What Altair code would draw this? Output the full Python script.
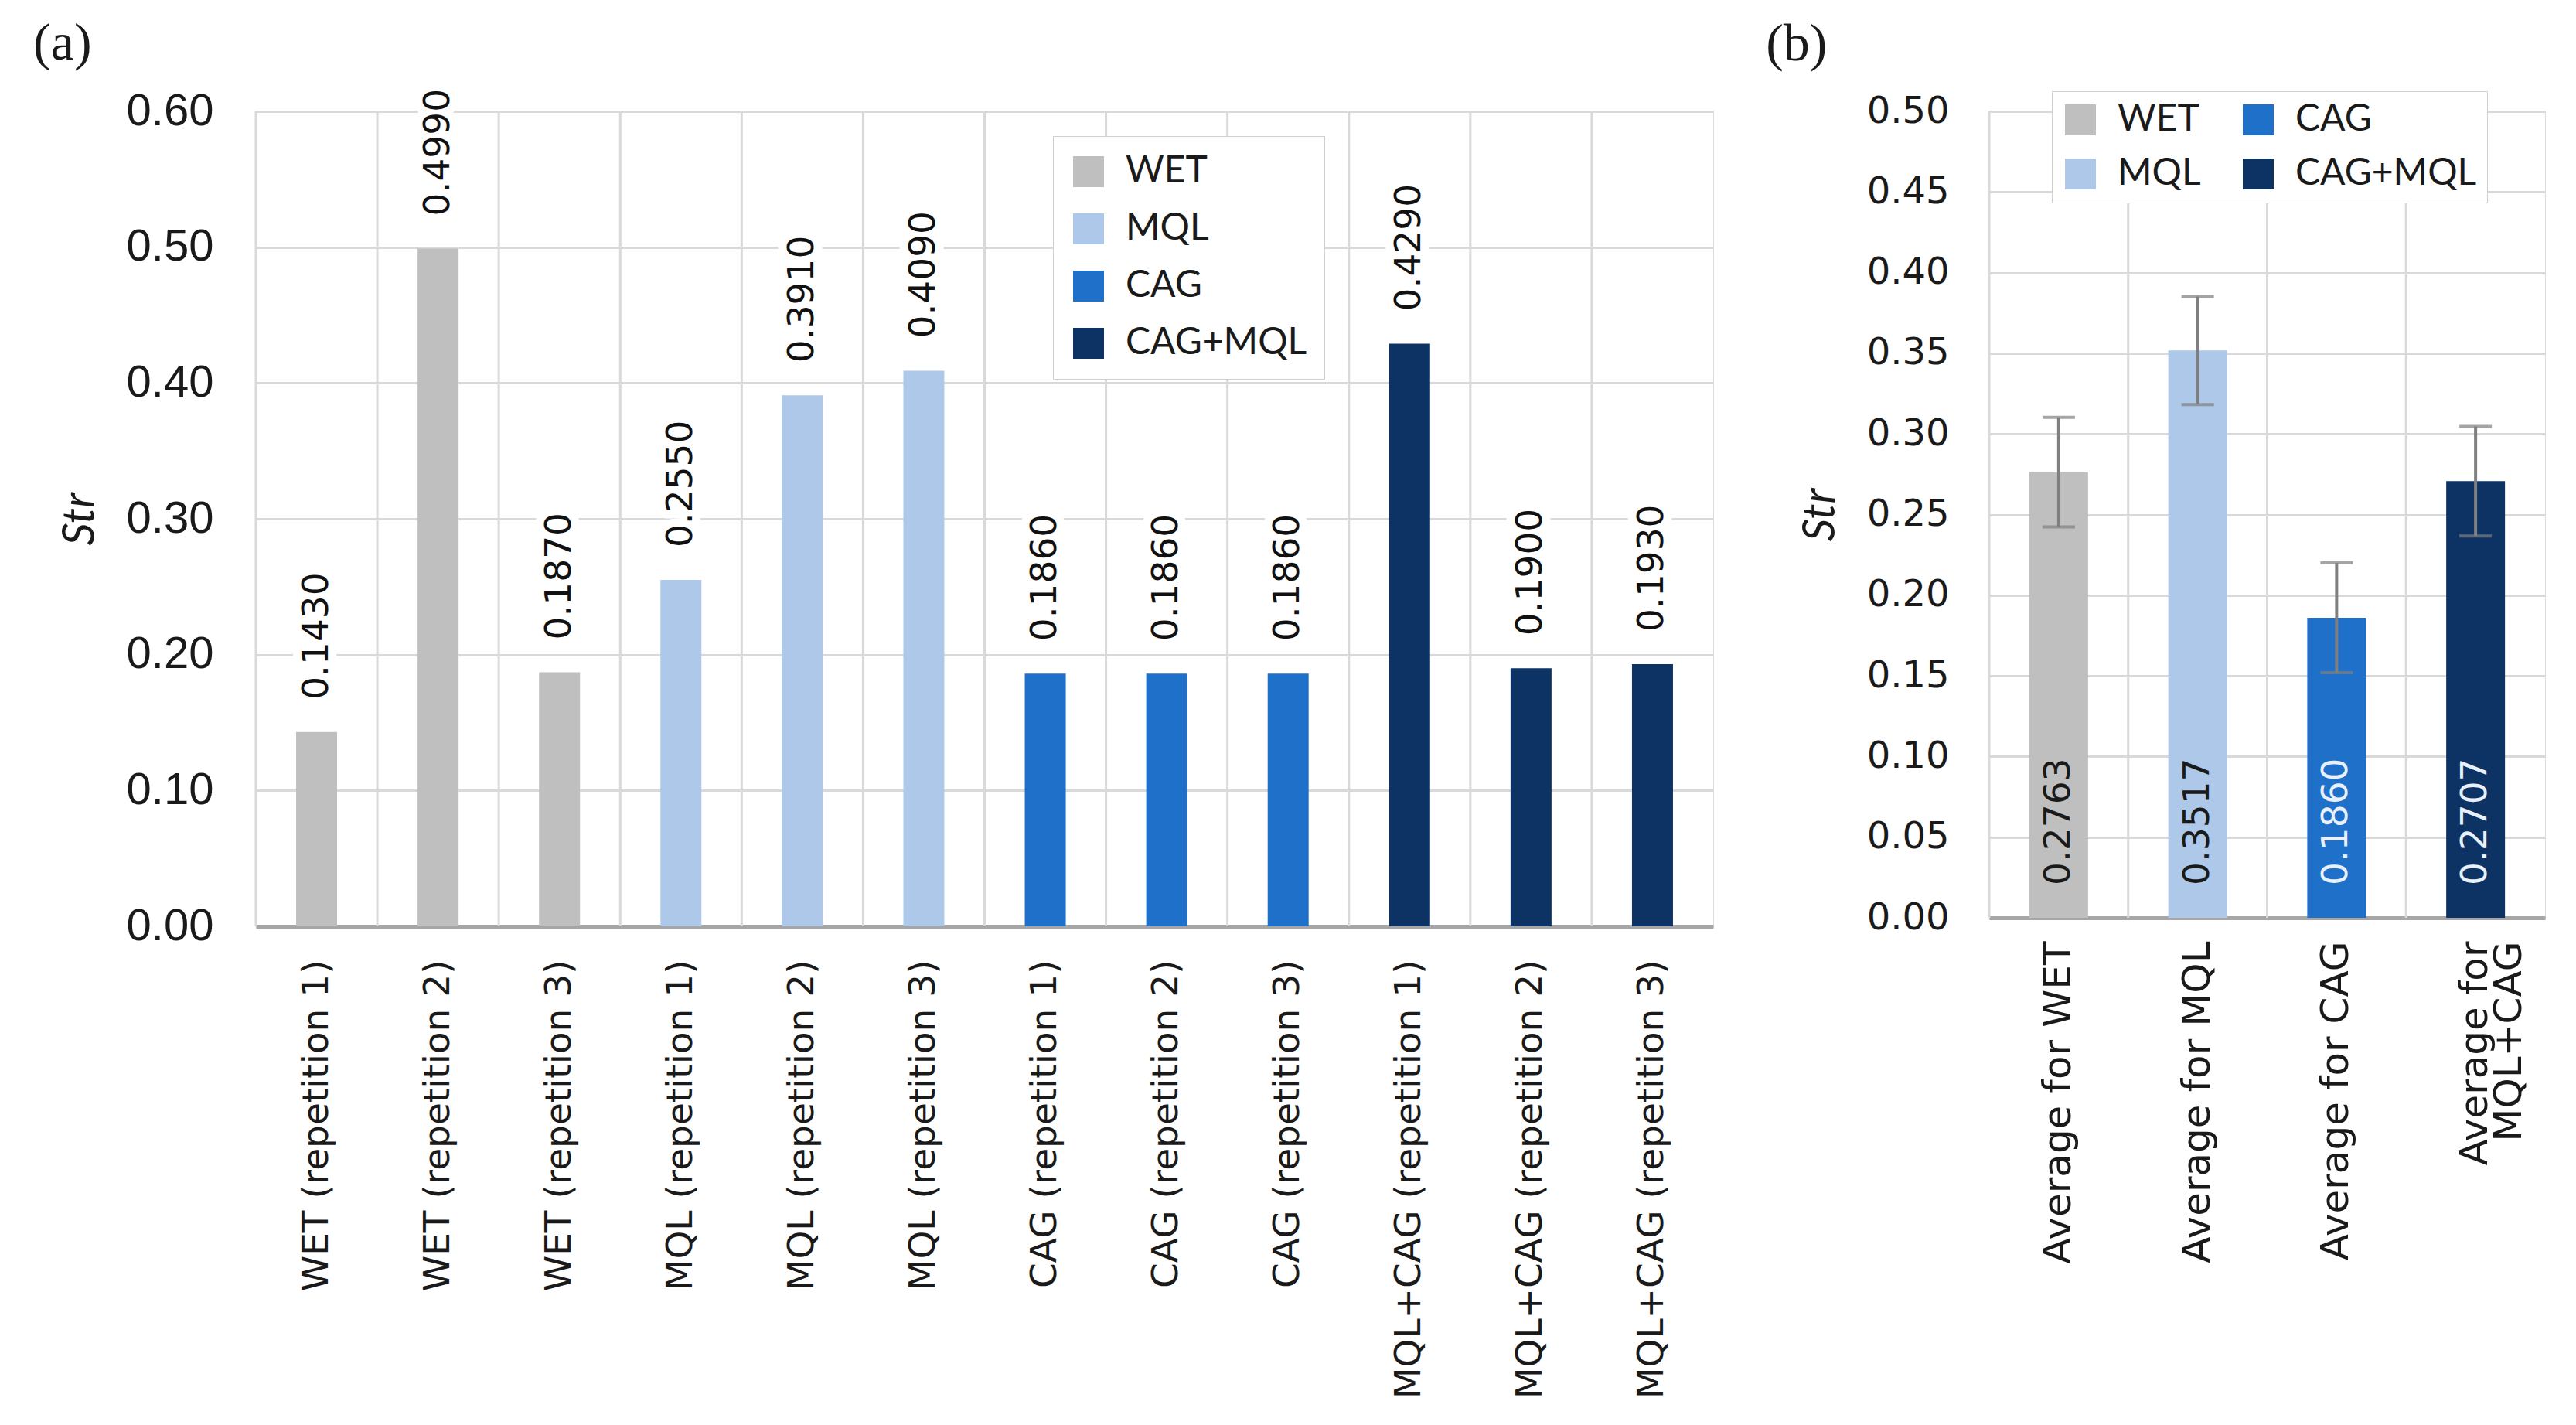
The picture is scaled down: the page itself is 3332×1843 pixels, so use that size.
import altair as alt
import pandas as pd

# ---------------- data ----------------
cats_a = [
    "WET (repetition 1)", "WET (repetition 2)", "WET (repetition 3)",
    "MQL (repetition 1)", "MQL (repetition 2)", "MQL (repetition 3)",
    "CAG (repetition 1)", "CAG (repetition 2)", "CAG (repetition 3)",
    "MQL+CAG (repetition 1)", "MQL+CAG (repetition 2)", "MQL+CAG (repetition 3)",
]
groups_a = ["WET"] * 3 + ["MQL"] * 3 + ["CAG"] * 3 + ["CAG+MQL"] * 3
vals_a = [0.1430, 0.4990, 0.1870, 0.2550, 0.3910, 0.4090,
          0.1860, 0.1860, 0.1860, 0.4290, 0.1900, 0.1930]

cats_b = ["Average for WET", "Average for MQL", "Average for CAG", "Average for MQL+CAG"]
groups_b = ["WET", "MQL", "CAG", "CAG+MQL"]
vals_b = [0.2763, 0.3517, 0.1860, 0.2707]
err_b = [0.034, 0.0335, 0.034, 0.034]

legend_order = ["WET", "MQL", "CAG", "CAG+MQL"]
palette = {"WET": "#bfbfbf", "MQL": "#adc8e9", "CAG": "#1f70c8", "CAG+MQL": "#0c3363"}

df_a = pd.DataFrame({"cat": cats_a, "group": groups_a, "val": vals_a})
df_b = pd.DataFrame({"cat": cats_b, "group": groups_b, "val": vals_b, "err": err_b})
df_b["lo"] = df_b["val"] - df_b["err"]
df_b["hi"] = df_b["val"] + df_b["err"]

GRID = "#d9d9d9"
SANS = "DejaVu Sans"
NARROW = "Liberation Sans Narrow, Liberation Sans"
LEG = "Lato"

# ---------------- panel (a) ----------------
xa = alt.X("cat:N", sort=cats_a, title=None,
           scale=alt.Scale(paddingInner=0, paddingOuter=0),
           axis=alt.Axis(labelAngle=-90, labelFont=SANS, labelFontSize=47,
                         labelColor="#1a1a1a", labelPadding=43, ticks=False,
                         grid=False, domainColor="#a6a6a6", domainWidth=5,
                         labelLimit=1000))
ya = alt.Y("val:Q", title="Str",
           scale=alt.Scale(domain=[0, 0.6], nice=False),
           axis=alt.Axis(values=[0, 0.1, 0.2, 0.3, 0.4, 0.5, 0.6], format=".2f",
                         labelFont=NARROW, labelFontSize=58, labelColor="#1a1a1a",
                         labelPadding=55, ticks=False, domain=False,
                         gridColor=GRID, gridWidth=3,
                         titleFont=LEG, titleFontStyle="italic", titleFontWeight="normal",
                         titleFontSize=58, titlePadding=30, titleColor="#1a1a1a"))

vgrid_a = alt.Chart(pd.DataFrame({"cat": cats_a})).mark_rule(
    color=GRID, strokeWidth=3).encode(
    x=alt.X("cat:N", sort=cats_a, bandPosition=0))

bars_a = alt.Chart(df_a).mark_bar(size=53).encode(
    x=xa, y=ya,
    color=alt.Color("group:N",
                    scale=alt.Scale(domain=legend_order,
                                    range=[palette[g] for g in legend_order]),
                    legend=alt.Legend(title=None, orient="none", legendX=1031, legendY=32,
                                      direction="vertical", symbolType="square",
                                      symbolSize=1600, symbolStrokeWidth=0,
                                      labelFont=LEG, labelFontSize=48, labelColor="#1a1a1a",
                                      labelLimit=1000,
                                      rowPadding=26, labelOffset=24, padding=22,
                                      fillColor="white", strokeColor="#cfcfcf")))

# value labels above bars, on a white halo that breaks the grid and frame
halo_a = alt.Chart(df_a).mark_text(
    dx=42, angle=270, align="left", baseline="middle", font=SANS, fontSize=47,
    color="white", stroke="white", strokeWidth=22, strokeJoin="round").encode(
    x=alt.X("cat:N", sort=cats_a), y="val:Q", text=alt.Text("val:Q", format=".4f"))
text_a = alt.Chart(df_a).mark_text(
    dx=42, angle=270, align="left", baseline="middle", font=SANS, fontSize=47,
    color="#111111").encode(
    x=alt.X("cat:N", sort=cats_a), y="val:Q", text=alt.Text("val:Q", format=".4f"))

panel_a = alt.layer(vgrid_a, bars_a, halo_a, text_a).properties(
    width=1885, height=1054,
    title=alt.TitleParams("(a)", anchor="start", frame="bounds", font="Liberation Serif",
                          fontSize=68, fontWeight="normal", color="#1a1a1a",
                          dx=-32, offset=24))

# ---------------- panel (b) ----------------
xb = alt.X("cat:N", sort=cats_b, title=None,
           scale=alt.Scale(paddingInner=0, paddingOuter=0),
           axis=alt.Axis(labelAngle=-90, labelFont=SANS, labelFontSize=50,
                         labelColor="#1a1a1a", labelPadding=30, ticks=False,
                         grid=False, domainColor="#a6a6a6", domainWidth=5,
                         labelLimit=1000, labelLineHeight=44,
                         labelExpr="datum.label == 'Average for MQL+CAG' ? ['Average for', 'MQL+CAG'] : datum.label"))
yb = alt.Y("val:Q", title="Str",
           scale=alt.Scale(domain=[0, 0.5], nice=False),
           axis=alt.Axis(values=[0, 0.05, 0.1, 0.15, 0.2, 0.25, 0.3, 0.35, 0.4, 0.45, 0.5],
                         format=".2f", labelFont=SANS, labelFontSize=48,
                         labelColor="#1a1a1a", labelPadding=52, ticks=False, domain=False,
                         gridColor=GRID, gridWidth=3,
                         titleFont=LEG, titleFontStyle="italic", titleFontWeight="normal",
                         titleFontSize=58, titlePadding=30, titleColor="#1a1a1a"))

vgrid_b = alt.Chart(pd.DataFrame({"cat": cats_b})).mark_rule(
    color=GRID, strokeWidth=3).encode(
    x=alt.X("cat:N", sort=cats_b, bandPosition=0))

bars_b = alt.Chart(df_b).mark_bar(size=76).encode(
    x=xb, y=yb,
    color=alt.Color("group:N",
                    scale=alt.Scale(domain=legend_order,
                                    range=[palette[g] for g in legend_order]),
                    legend=alt.Legend(title=None, orient="none", legendX=81, legendY=-26,
                                      columns=2, symbolType="square",
                                      symbolSize=1600, symbolStrokeWidth=0,
                                      labelFont=LEG, labelFontSize=48, labelColor="#1a1a1a",
                                      labelLimit=1000,
                                      rowPadding=22, columnPadding=50, labelOffset=24,
                                      padding=13, fillColor="white", strokeColor="#cfcfcf")))

err_rule = alt.Chart(df_b).mark_rule(color="#7f7f7f", strokeWidth=4).encode(
    x=alt.X("cat:N", sort=cats_b), y="lo:Q", y2="hi:Q")
cap_lo = alt.Chart(df_b).mark_tick(color="#7f7f7f", size=42, thickness=4).encode(
    x=alt.X("cat:N", sort=cats_b), y="lo:Q")
cap_hi = alt.Chart(df_b).mark_tick(color="#7f7f7f", size=42, thickness=4).encode(
    x=alt.X("cat:N", sort=cats_b), y="hi:Q")

text_b_dark = alt.Chart(df_b).transform_filter(
    "datum.group == 'WET' || datum.group == 'MQL'").mark_text(
    angle=270, align="left", baseline="middle", dx=42,
    font=SANS, fontSize=47, color="#1a1a1a").encode(
    x=alt.X("cat:N", sort=cats_b), y=alt.datum(0),
    text=alt.Text("val:Q", format=".4f"))
text_b_light = alt.Chart(df_b).transform_filter(
    "datum.group == 'CAG' || datum.group == 'CAG+MQL'").mark_text(
    angle=270, align="left", baseline="middle", dx=42,
    font=SANS, fontSize=47, color="#e8f1fb").encode(
    x=alt.X("cat:N", sort=cats_b), y=alt.datum(0),
    text=alt.Text("val:Q", format=".4f"))

panel_b = alt.layer(vgrid_b, bars_b, err_rule, cap_lo, cap_hi,
                    text_b_dark, text_b_light).properties(
    width=719, height=1043,
    title=alt.TitleParams("(b)", anchor="start", frame="bounds", font="Liberation Serif",
                          fontSize=68, fontWeight="normal", color="#1a1a1a",
                          dx=-42, offset=26))

chart = alt.hconcat(panel_a, panel_b, spacing=357, bounds="flush").resolve_scale(
    color="independent", x="independent", y="independent"
).properties(
    padding={"left": 34, "top": 14, "right": 5, "bottom": 2}
).configure_view(stroke="#8c8c8c", strokeWidth=3).configure_legend(
    strokeWidth=3
).configure(background="white")

chart.save("out.html", embed_options={"renderer": "svg", "actions": False})
